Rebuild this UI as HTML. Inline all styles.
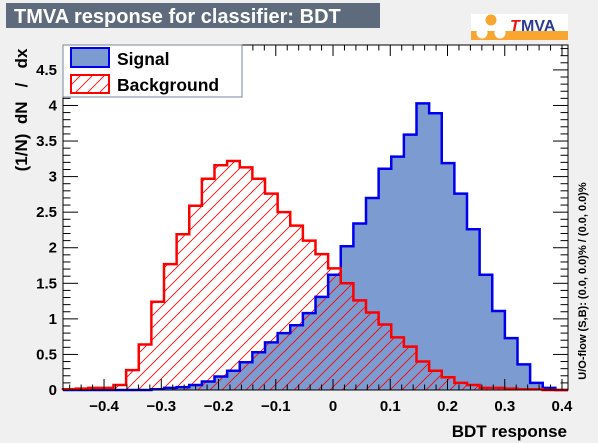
<!DOCTYPE html>
<html><head><meta charset="utf-8"><style>
body{margin:0;background:#f0f0f0;}
svg{display:block;font-family:"Liberation Sans",sans-serif;font-weight:bold;}
</style></head><body>
<svg id="c" width="598" height="443" xmlns="http://www.w3.org/2000/svg">
<defs>
<pattern id="hatch" patternUnits="userSpaceOnUse" width="12" height="12">
<path d="M-3,15 L15,-3 M-3,3 L3,-3 M9,15 L15,9" stroke="#ff0000" stroke-width="0.8"/>
</pattern>
</defs>
<rect x="0" y="0" width="598" height="443" fill="#f0f0f0"/>
<rect x="6" y="3" width="374" height="25" fill="#5d6b7d"/>
<text x="14" y="23" font-size="20" fill="#ffffff">TMVA response for classifier: BDT</text>
<g>
<rect x="471" y="14" width="97" height="26" fill="#ffffff"/>
<rect x="471" y="31" width="97" height="9" fill="#f9a630"/>
<circle cx="491" cy="20" r="5.5" fill="#f9a630"/>
<circle cx="482" cy="33" r="5.5" fill="#ffffff"/>
<circle cx="500" cy="33" r="5.5" fill="#ffffff"/>
<text x="510" y="31" font-size="16" font-style="italic" fill="#ee1111">T</text>
<text x="521" y="31" font-size="16" fill="#2b3a93">MVA</text>
</g>
<rect x="63" y="45" width="505" height="345" fill="#ffffff"/>
<g id="hist"></g>
<rect x="63" y="45" width="505" height="345" fill="none" stroke="#000" stroke-width="1"/>
<g id="axes"></g>
<g>
<rect x="63" y="45" width="179" height="52" fill="#ffffff" stroke="#778899" stroke-width="1"/>
<rect x="71" y="48" width="38" height="19" fill="#7b9bd1" stroke="#0000ee" stroke-width="2"/>
<text x="117" y="65" font-size="17.5" fill="#000">Signal</text>
<rect x="71" y="75" width="38" height="18" fill="url(#hatch)" stroke="#ff0000" stroke-width="2"/>
<text x="117" y="91" font-size="17.5" fill="#000">Background</text>
</g>
<text transform="translate(27,110) rotate(-90)" text-anchor="middle" font-size="17" fill="#000" style="white-space:pre">(1/N)  dN   /   dx</text>
<text x="567" y="437" text-anchor="end" font-size="17" fill="#000">BDT response</text>
<text transform="translate(586,281) rotate(-90)" text-anchor="middle" font-size="11" fill="#000">U/O-flow (S,B): (0.0, 0.0)% / (0.0, 0.0)%</text>
</svg>
<script>
const xMin = -0.4717, xMax = 0.4105, nBins = 40;
const signalValues = [0,0,0,0,0,0,0,0.01,0.03,0.04,0.07,0.12,0.19,0.27,0.39,0.53,0.67,0.80,0.91,1.08,1.31,1.62,2.02,2.34,2.70,3.11,3.28,3.59,4.03,3.89,3.19,2.76,2.26,1.62,1.11,0.73,0.36,0.10,0.03,0];
const backgroundValues = [0.01,0.02,0.03,0.03,0.07,0.28,0.64,1.24,1.77,2.19,2.59,2.97,3.16,3.22,3.13,2.97,2.76,2.50,2.31,2.10,1.91,1.71,1.50,1.26,1.09,0.92,0.74,0.61,0.40,0.27,0.18,0.10,0.07,0.03,0.03,0.02,0.01,0.01,0,0];
const xTicks = [-0.4,-0.3,-0.2,-0.1,0,0.1,0.2,0.3,0.4];
const xTickLabels = ["\u22120.4","\u22120.3","\u22120.2","\u22120.1","0","0.1","0.2","0.3","0.4"];
const yTicks = [0,0.5,1,1.5,2,2.5,3,3.5,4,4.5];
const yTickLabels = ["0","0.5","1","1.5","2","2.5","3","3.5","4","4.5"];
const X0=63,X1=568,Y0=390,Y1=45,yMax=4.85;
const sx=v=>X0+(v-xMin)/(xMax-xMin)*(X1-X0);
const sy=v=>Y0-v/yMax*(Y0-Y1);
const NS="http://www.w3.org/2000/svg";
const hist=document.getElementById('hist'), axes=document.getElementById('axes');
function mk(tag,attrs,parent){const e=document.createElementNS(NS,tag);for(const k in attrs)e.setAttribute(k,attrs[k]);parent.appendChild(e);return e;}
function stepPath(vals){const w=(xMax-xMin)/nBins;let d=`M${sx(xMin)},${sy(0)}`;vals.forEach((v,i)=>{d+=` L${sx(xMin+i*w)},${sy(v)} L${sx(xMin+(i+1)*w)},${sy(v)}`;});d+=` L${sx(xMax)},${sy(0)}`;return d;}
const sFill=mk('path',{d:stepPath(signalValues)+' Z',fill:'#7b9bd1',stroke:'none'},hist);


const bFill=mk('path',{d:stepPath(backgroundValues)+' Z',fill:'url(#hatch)',stroke:'none'},hist);


const sLine=mk('path',{d:stepPath(signalValues),fill:'none',stroke:'#0000ee','stroke-width':2.5},hist);


const bLine=mk('path',{d:stepPath(backgroundValues),fill:'none',stroke:'#ff0000','stroke-width':2.5},hist);


for(let v=-0.46;v<=0.41;v+=0.02){const x=sx(v);const major=Math.abs(Math.round(v*10)-v*10)<1e-6;
mk('line',{x1:x,x2:x,y1:Y0,y2:Y0-(major?11:5.5),stroke:'#000','stroke-width':1},axes);
mk('line',{x1:x,x2:x,y1:Y1,y2:Y1+(major?11:5.5),stroke:'#000','stroke-width':1},axes);}
xTicks.forEach((v,i)=>{const t=mk('text',{x:sx(v),y:411,'text-anchor':'middle','font-size':15,fill:'#000'},axes);t.textContent=xTickLabels[i];

});
for(let v=0;v<=4.8;v+=0.1){const y=sy(v);const major=Math.abs(Math.round(v*2)-v*2)<1e-6;
mk('line',{x1:X0,x2:X0+(major?15:7.5),y1:y,y2:y,stroke:'#000','stroke-width':1},axes);
mk('line',{x1:X1,x2:X1-(major?15:7.5),y1:y,y2:y,stroke:'#000','stroke-width':1},axes);}
yTicks.forEach((v,i)=>{const t=mk('text',{x:57,y:sy(v)+5,'text-anchor':'end','font-size':15,fill:'#000'},axes);t.textContent=yTickLabels[i];

});
</script>
</body></html>
